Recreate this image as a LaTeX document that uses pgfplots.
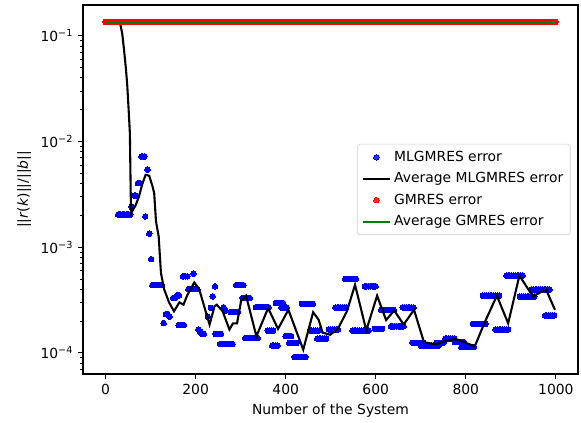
\documentclass[border=0pt]{standalone}
\usepackage{fontspec}
\setmainfont{DejaVu Sans}
\usepackage{pgfplots}
\pgfplotsset{compat=1.18}
\definecolor{mplgreen}{rgb}{0,0.5,0}
\pgfplotsset{
  linelegend/.style={legend image code/.code={\draw[##1] (0pt,0pt) -- (20pt,0pt);}},
  marklegend/.style={legend image code/.code={\draw[mark repeat=2,mark phase=2,##1] plot coordinates {(0pt,0pt) (10pt,0pt) (20pt,0pt)};}},
}
\begin{document}
\begin{tikzpicture}
\path[use as bounding box] (-59.8pt,-35.3pt) rectangle (358.6pt,269.3pt);
\begin{axis}[
  at={(0,0)}, anchor=south west,
  scale only axis, width=356.4pt, height=265.7pt,
  clip mode=individual,
  ymode=log, xmin=-50, xmax=1049, ymin=6.3e-5, ymax=0.196,
  axis line style={line width=0.8pt},
  tick align=outside, tick pos=left,
  major tick length=3.5pt, minor tick length=2pt,
  major tick style={black, line width=0.8pt},
  minor tick style={black, line width=0.6pt},
  xtick={0,200,400,600,800,1000},
  xticklabels={0,200,400,600,800,1000},
  ytick={1e-4,1e-3,1e-2,1e-1},
  yticklabels={10\textsuperscript{−4},10\textsuperscript{−3},10\textsuperscript{−2},10\textsuperscript{−1}},
  minor ytick={7e-5,8e-5,9e-5,2e-4,3e-4,4e-4,5e-4,6e-4,7e-4,8e-4,9e-4,2e-3,3e-3,4e-3,5e-3,6e-3,7e-3,8e-3,9e-3,2e-2,3e-2,4e-2,5e-2,6e-2,7e-2,8e-2,9e-2},
  xlabel={Number of the System},
  ylabel={||\textit{r}(\textit{k})||/||\textit{b}||},
  legend cell align=left,
  legend style={at={(axis description cs:0.985,0.5)}, anchor=east, draw=black!20, rounded corners=2pt, fill=white, fill opacity=0.8, text opacity=1, inner sep=3pt, row sep=2.5pt},
]
\addplot[only marks, mark=*, mark size=2pt, blue, mark options={line width=0pt, draw=blue, fill=blue}, marklegend]
coordinates {
(0,0.1355)(4,0.1355)(8,0.1355)(12,0.1355)(16,0.1355)(20,0.1355)(24,0.1355)
(28,0.00203)(31,0.00203)(34,0.00203)(37,0.00203)(40,0.00203)(43,0.00203)(46,0.00203)(49,0.00203)(52,0.00203)(55,0.00203)
(58,0.0024)(64,0.00308)(67,0.00308)(72,0.00404)(75,0.00404)(80,0.0072)(83,0.0072)(86,0.0072)
(88,0.00195)(93,0.0054)(97,0.00134)(101,0.00077)
(104,0.000437)(107,0.000437)(110,0.000437)(113,0.000437)(116,0.000437)(119,0.000437)(122,0.000437)(125,0.000437)
(129,0.000191)(134,0.000232)(138,0.000232)(142,0.00022)
(150,0.00033)(154,0.00033)(159,0.00035)(163,0.00035)
(162,0.000183)(166,0.000183)(170,0.000183)(174,0.000183)
(172,0.00053)(177,0.00053)(182,0.00053)(195,0.00056)
(184,0.0004)(188,0.0004)(192,0.0004)(196,0.0004)(200,0.0004)(204,0.0004)
(206,0.000166)(210,0.000158)(214,0.000151)(218,0.000151)
(227,0.00022)(234,0.000266)(238,0.000342)(243,0.000426)
(244,0.000151)(248,0.000151)(252,0.000151)(256,0.000151)
(262,0.00027)(266,0.00025)
(254,0.000121)(258,0.000121)(262,0.000121)(266,0.000121)(270,0.000121)(274,0.000121)(278,0.000121)(282,0.000121)
(278,0.000243)(282,0.000243)(286,0.000243)(290,0.000243)(294,0.000243)
(290,0.000437)(294,0.000437)(298,0.000437)(302,0.000437)(306,0.000437)
(304,0.00033)(308,0.00033)(312,0.00033)(316,0.00033)(320,0.00033)
(310,0.000138)(314,0.000138)(318,0.000138)(322,0.000138)(326,0.000138)(330,0.000138)(334,0.000138)(338,0.000138)
(334,0.00027)(338,0.00027)(342,0.00027)(346,0.00027)(350,0.00027)(354,0.00027)(358,0.00027)(362,0.00027)
(360,0.000162)(364,0.000162)(368,0.000162)(372,0.000162)
(370,0.000117)(374,0.000117)(378,0.000117)(382,0.000117)
(378,0.000296)(382,0.000296)(386,0.000296)(390,0.000296)(394,0.000296)
(390,0.000268)(394,0.000268)(398,0.000268)(402,0.000268)
(400,0.000144)(404,0.000144)(408,0.000144)(412,0.000144)
(408,0.000124)(412,0.000124)(416,0.000124)(420,0.000124)(424,0.000124)
(420,0.0000912)(424,0.0000912)(428,0.0000912)(432,0.0000912)(436,0.0000912)(440,0.0000912)(444,0.0000912)
(436,0.00029)(440,0.00029)(444,0.00029)(448,0.00029)(452,0.00029)(456,0.00029)(460,0.00029)
(454,0.000162)(458,0.000162)(462,0.000162)(466,0.000162)(470,0.000162)(474,0.000162)
(470,0.000136)(474,0.000136)(478,0.000136)(482,0.000136)(486,0.000136)(490,0.000136)
(496,0.000166)(500,0.000166)(504,0.000166)(508,0.000166)(512,0.000166)(516,0.000166)
(510,0.000268)(514,0.000268)(518,0.000268)(522,0.000268)(526,0.000268)(530,0.000268)(534,0.000268)
(532,0.000501)(536,0.000501)(540,0.000501)(544,0.000501)(548,0.000501)(552,0.000501)(556,0.000501)
(548,0.000162)(552,0.000162)(556,0.000162)(560,0.000162)(564,0.000162)(568,0.000162)(572,0.000162)(576,0.000162)(580,0.000162)(584,0.000162)
(576,0.000426)(580,0.000426)(584,0.000426)(588,0.000426)(592,0.000426)(596,0.000426)(600,0.000426)
(598,0.000168)(602,0.000168)(606,0.000168)(610,0.000168)(614,0.000168)
(612,0.000255)(616,0.000255)(620,0.000255)(624,0.000255)(628,0.000255)(632,0.000255)(636,0.000255)(640,0.000255)
(634,0.000178)(638,0.000178)(642,0.000178)(646,0.000178)(650,0.000178)(654,0.000178)(658,0.000178)(662,0.000178)
(660,0.000268)(664,0.000268)(668,0.000268)(672,0.000268)(676,0.000268)(680,0.000268)(684,0.000268)
(682,0.000124)(686,0.000124)(690,0.000124)(694,0.000124)(698,0.000124)(702,0.000124)(706,0.000124)
(700,0.000117)(704,0.000117)(708,0.000117)(712,0.000117)(716,0.000117)(720,0.000117)(724,0.000117)(728,0.000117)(732,0.000117)(736,0.000117)(740,0.000117)
(734,0.000124)(738,0.000124)(742,0.000124)(746,0.000124)(750,0.000124)
(754,0.000136)(758,0.000136)(762,0.000136)(766,0.000136)(770,0.000136)(774,0.000136)
(776,0.000126)(780,0.000126)(784,0.000126)(788,0.000126)(792,0.000126)(796,0.000126)
(790,0.000113)(794,0.000113)(798,0.000113)(802,0.000113)(806,0.000113)(810,0.000113)(814,0.000113)(818,0.000113)
(816,0.000188)(820,0.000188)(824,0.000188)(828,0.000188)(832,0.000188)(836,0.000188)(840,0.000188)(844,0.000188)
(838,0.000347)(842,0.000347)(846,0.000347)(850,0.000347)(854,0.000347)(858,0.000347)(862,0.000347)(866,0.000347)(870,0.000347)(874,0.000347)
(866,0.000166)(870,0.000166)(874,0.000166)(878,0.000166)(882,0.000166)(886,0.000166)(890,0.000166)(894,0.000166)
(890,0.000537)(894,0.000537)(898,0.000537)(902,0.000537)(906,0.000537)(910,0.000537)(914,0.000537)(918,0.000537)(922,0.000537)(926,0.000537)
(920,0.00034)(924,0.00034)(928,0.00034)(932,0.00034)(936,0.00034)(940,0.00034)(944,0.00034)(948,0.00034)(952,0.00034)
(946,0.000398)(950,0.000398)(954,0.000398)(958,0.000398)(962,0.000398)(966,0.000398)(970,0.000398)(974,0.000398)(978,0.000398)(982,0.000398)(986,0.000398)
(976,0.000225)(980,0.000225)(984,0.000225)(988,0.000225)(992,0.000225)(996,0.000225)
};
\addlegendentry{MLGMRES error}
\addplot[black, line width=1.5pt, linelegend] coordinates {
(0,0.1355)(25,0.135)(33,0.128)(37,0.105)(41,0.074)(45,0.05)(48,0.035)(51,0.021)(54,0.012)(55,0.006)(56,0.003)(57,0.0021)
(62,0.0023)(67,0.0025)(74,0.003)(82,0.004)(89,0.00484)(97,0.00474)(100,0.0043)(104,0.0038)(108,0.00324)(112,0.00175)(118,0.00126)(123,0.00057)(130,0.0004)
(141,0.0003)(152,0.000247)(164,0.0003)(173,0.000285)(182,0.000355)(197,0.000463)(208,0.0004)(219,0.000275)(231,0.000185)(242,0.000275)
(247,0.000285)(260,0.000247)(275,0.000166)(283,0.00019)(292,0.00019)(301,0.00031)(312,0.000347)(335,0.000143)(361,0.000265)(383,0.000168)(406,0.000255)(439,0.000107)(461,0.000242)(473,0.000206)(482,0.000155)
(499,0.000148)(517,0.000172)(536,0.000247)(554,0.00044)(579,0.000163)(603,0.000347)(623,0.000204)(641,0.000251)(662,0.000185)(685,0.000255)(707,0.000126)(733,0.00012)(752,0.000129)
(778,0.000135)(796,0.000126)(820,0.000115)(841,0.00019)(869,0.000347)(894,0.00019)(919,0.000537)(949,0.000342)(978,0.000398)(998,0.000255)
};
\addlegendentry{Average MLGMRES error}
\addplot[only marks, mark=*, mark size=2pt, red, mark options={line width=0pt, draw=red, fill=red}, marklegend]
coordinates {
(0,0.1355)(5,0.1355)(10,0.1355)(15,0.1355)(20,0.1355)(25,0.1355)(30,0.1355)(35,0.1355)(40,0.1355)(45,0.1355)
(50,0.1355)(55,0.1355)(60,0.1355)(65,0.1355)(70,0.1355)(75,0.1355)(80,0.1355)(85,0.1355)(90,0.1355)(95,0.1355)
(100,0.1355)(105,0.1355)(110,0.1355)(115,0.1355)(120,0.1355)(125,0.1355)(130,0.1355)(135,0.1355)(140,0.1355)(145,0.1355)
(150,0.1355)(155,0.1355)(160,0.1355)(165,0.1355)(170,0.1355)(175,0.1355)(180,0.1355)(185,0.1355)(190,0.1355)(195,0.1355)
(200,0.1355)(205,0.1355)(210,0.1355)(215,0.1355)(220,0.1355)(225,0.1355)(230,0.1355)(235,0.1355)(240,0.1355)(245,0.1355)
(250,0.1355)(255,0.1355)(260,0.1355)(265,0.1355)(270,0.1355)(275,0.1355)(280,0.1355)(285,0.1355)(290,0.1355)(295,0.1355)
(300,0.1355)(305,0.1355)(310,0.1355)(315,0.1355)(320,0.1355)(325,0.1355)(330,0.1355)(335,0.1355)(340,0.1355)(345,0.1355)
(350,0.1355)(355,0.1355)(360,0.1355)(365,0.1355)(370,0.1355)(375,0.1355)(380,0.1355)(385,0.1355)(390,0.1355)(395,0.1355)
(400,0.1355)(405,0.1355)(410,0.1355)(415,0.1355)(420,0.1355)(425,0.1355)(430,0.1355)(435,0.1355)(440,0.1355)(445,0.1355)
(450,0.1355)(455,0.1355)(460,0.1355)(465,0.1355)(470,0.1355)(475,0.1355)(480,0.1355)(485,0.1355)(490,0.1355)(495,0.1355)
(500,0.1355)(505,0.1355)(510,0.1355)(515,0.1355)(520,0.1355)(525,0.1355)(530,0.1355)(535,0.1355)(540,0.1355)(545,0.1355)
(550,0.1355)(555,0.1355)(560,0.1355)(565,0.1355)(570,0.1355)(575,0.1355)(580,0.1355)(585,0.1355)(590,0.1355)(595,0.1355)
(600,0.1355)(605,0.1355)(610,0.1355)(615,0.1355)(620,0.1355)(625,0.1355)(630,0.1355)(635,0.1355)(640,0.1355)(645,0.1355)
(650,0.1355)(655,0.1355)(660,0.1355)(665,0.1355)(670,0.1355)(675,0.1355)(680,0.1355)(685,0.1355)(690,0.1355)(695,0.1355)
(700,0.1355)(705,0.1355)(710,0.1355)(715,0.1355)(720,0.1355)(725,0.1355)(730,0.1355)(735,0.1355)(740,0.1355)(745,0.1355)
(750,0.1355)(755,0.1355)(760,0.1355)(765,0.1355)(770,0.1355)(775,0.1355)(780,0.1355)(785,0.1355)(790,0.1355)(795,0.1355)
(800,0.1355)(805,0.1355)(810,0.1355)(815,0.1355)(820,0.1355)(825,0.1355)(830,0.1355)(835,0.1355)(840,0.1355)(845,0.1355)
(850,0.1355)(855,0.1355)(860,0.1355)(865,0.1355)(870,0.1355)(875,0.1355)(880,0.1355)(885,0.1355)(890,0.1355)(895,0.1355)
(900,0.1355)(905,0.1355)(910,0.1355)(915,0.1355)(920,0.1355)(925,0.1355)(930,0.1355)(935,0.1355)(940,0.1355)(945,0.1355)
(950,0.1355)(955,0.1355)(960,0.1355)(965,0.1355)(970,0.1355)(975,0.1355)(980,0.1355)(985,0.1355)(990,0.1355)(995,0.1355)(999,0.1355)
};
\addlegendentry{GMRES error}
\addplot[mplgreen, line width=1.5pt, linelegend] coordinates {(0,0.1355)(999,0.1355)};
\addlegendentry{Average GMRES error}
\end{axis}
\end{tikzpicture}
\end{document}
